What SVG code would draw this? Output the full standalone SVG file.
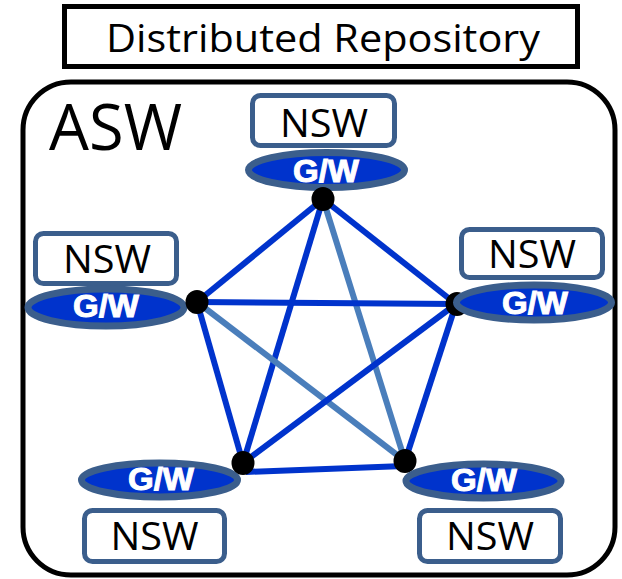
<svg xmlns="http://www.w3.org/2000/svg" width="622" height="579" viewBox="0 0 622 579">
<style>
.frame{fill:#fff;stroke:#000;stroke-width:5}
.nsw{fill:#fff;stroke:#3B5E8C;stroke-width:5}
.gw{fill:#0033CC;stroke:#3B5E8C;stroke-width:7}
.t{font-family:"Open Sans","Noto Sans",sans-serif;fill:#000;text-anchor:middle}
.gwt{font-family:"Liberation Sans",Arial,sans-serif;font-weight:bold;font-size:32px;fill:#fff;stroke:#fff;stroke-width:1;text-anchor:middle}
.dk{stroke:#0033CC;stroke-width:6;fill:none}
.lt{stroke:#4A7EBB;stroke-width:6;fill:none}
.dot{fill:#000}
</style>
<g id="title">
<rect class="frame" x="64.5" y="6.5" width="513" height="60"/>
<text class="t" x="323" y="52" font-size="38" textLength="434" lengthAdjust="spacingAndGlyphs">Distributed Repository</text>
</g>
<g id="asw">
<rect class="frame" x="23" y="82" width="592" height="493" rx="48" ry="48"/>
<text class="t" x="115.5" y="150" font-size="64" textLength="133" lengthAdjust="spacingAndGlyphs">ASW</text>
</g>
<g id="connectors">
<line class="dk" x1="323" y1="199" x2="197" y2="302"/>
<line class="dk" x1="323" y1="199" x2="456" y2="304"/>
<line class="dk" x1="323" y1="199" x2="243" y2="463"/>
<line class="lt" x1="323" y1="199" x2="405" y2="461"/>
<line class="dk" x1="197" y1="302" x2="456" y2="304"/>
<line class="dk" x1="197" y1="302" x2="243" y2="463"/>
<line class="lt" x1="197" y1="302" x2="405" y2="461"/>
<line class="dk" x1="456" y1="304" x2="243" y2="463"/>
<line class="dk" x1="456" y1="304" x2="405" y2="461"/>
<line class="dk" x1="246" y1="472" x2="404" y2="466"/>
</g>
<g id="node-top">
<rect class="nsw" x="252.5" y="95.5" width="142" height="50" rx="8"/>
<text class="t" x="324" y="137" font-size="38" textLength="88" lengthAdjust="spacingAndGlyphs">NSW</text>
<ellipse class="gw" cx="326.5" cy="170" rx="78" ry="17.5"/>
<text class="gwt" x="326" y="182" textLength="66" lengthAdjust="spacingAndGlyphs">G/W</text>
<ellipse class="dot" cx="323" cy="199" rx="11.5" ry="12"/>
</g>
<g id="node-left">
<rect class="nsw" x="35.5" y="233.5" width="141" height="50" rx="8"/>
<text class="t" x="107" y="273" font-size="38" textLength="88" lengthAdjust="spacingAndGlyphs">NSW</text>
<ellipse class="gw" cx="106" cy="307.5" rx="78" ry="18.5"/>
<text class="gwt" x="106" y="317" textLength="66" lengthAdjust="spacingAndGlyphs">G/W</text>
<ellipse class="dot" cx="197" cy="302" rx="11.5" ry="12"/>
</g>
<g id="node-right">
<rect class="nsw" x="461.5" y="229.5" width="141" height="48" rx="8"/>
<text class="t" x="532" y="268" font-size="38" textLength="88" lengthAdjust="spacingAndGlyphs">NSW</text>
<ellipse class="dot" cx="457" cy="304" rx="11.5" ry="12"/>
<ellipse class="gw" cx="534" cy="302.5" rx="77.5" ry="17.5"/>
<text class="gwt" x="535" y="314" textLength="66" lengthAdjust="spacingAndGlyphs">G/W</text>
</g>
<g id="node-bottom-left">
<ellipse class="gw" cx="159.5" cy="480" rx="78" ry="17"/>
<text class="gwt" x="161" y="490" textLength="66" lengthAdjust="spacingAndGlyphs">G/W</text>
<ellipse class="dot" cx="243" cy="463" rx="11.5" ry="12"/>
<rect class="nsw" x="84.5" y="510.5" width="140" height="51" rx="8"/>
<text class="t" x="154.5" y="550" font-size="38" textLength="88" lengthAdjust="spacingAndGlyphs">NSW</text>
</g>
<g id="node-bottom-right">
<ellipse class="dot" cx="405" cy="461" rx="11.5" ry="12"/>
<ellipse class="gw" cx="483.5" cy="481" rx="77.5" ry="17"/>
<text class="gwt" x="484" y="491" textLength="66" lengthAdjust="spacingAndGlyphs">G/W</text>
<rect class="nsw" x="419.5" y="510.5" width="141" height="51" rx="8"/>
<text class="t" x="490" y="550" font-size="38" textLength="88" lengthAdjust="spacingAndGlyphs">NSW</text>
</g>
</svg>
